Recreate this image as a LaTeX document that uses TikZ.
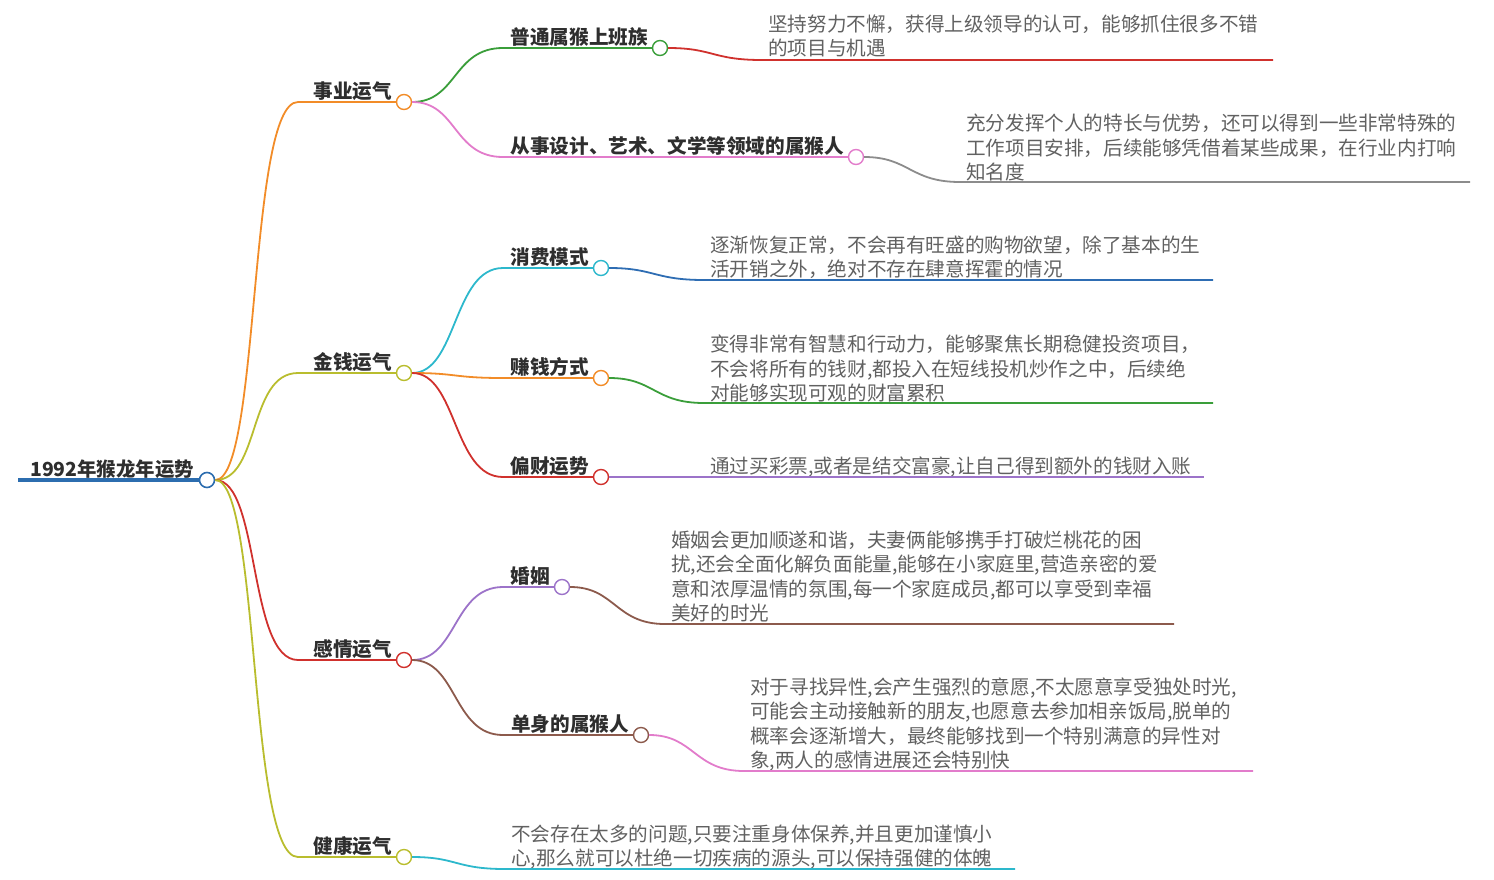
\documentclass[tikz,border=0pt]{standalone}
\usepackage{fontspec}
\newfontfamily\cjk{Noto Sans CJK SC}
\usetikzlibrary{calc}

\definecolor{rootblue}{HTML}{2C6DAF}
\definecolor{cOrange}{HTML}{F28C28}
\definecolor{cOlive}{HTML}{B9BD2E}
\definecolor{cRed}{HTML}{D0312D}
\definecolor{cGreen}{HTML}{3A9E3A}
\definecolor{cPink}{HTML}{E27CCB}
\definecolor{cCyan}{HTML}{2DB8CC}
\definecolor{cBlue}{HTML}{2E6DB3}
\definecolor{cPurple}{HTML}{9C73C9}
\definecolor{cBrown}{HTML}{8C5A4C}
\definecolor{cGray}{HTML}{8C8C8C}

\tikzset{
  dot/.style={circle,draw,fill=white,line width=1.4pt,minimum size=15pt,inner sep=0pt},
  lab/.style={anchor=base east,inner sep=0pt,text=black!82,font=\cjk\bfseries\fontsize{19.6}{24}\selectfont},
  leaf/.style={anchor=base west,inner sep=0pt,align=left,text=black!62,font=\cjk\fontsize{19.6}{24.5}\selectfont},
  br/.style={line width=1.8pt},
}

\begin{document}
\begin{tikzpicture}[x=1pt,y=-1pt]
\useasboundingbox (0,0) rectangle (1494,879);
% root
\node[dot,draw=rootblue,line width=1.6pt] (root) at (207,480) {};
\coordinate (r0) at (18,480);
\draw[line width=4pt,rootblue] (r0) -- (root.west);
\node[lab,anchor=base west,font=\cjk\bfseries\fontsize{19.4}{22}\selectfont] (rootlab) at (30,476) {1992年猴龙年运势};
% main branches
\foreach \n/\y/\col/\t in {1/102/cOrange/事业运气,2/373/cOlive/金钱运气,3/660/cRed/感情运气,4/857/cOlive/健康运气}{
  \node[dot,draw=\col] (m\n) at (404,\y) {};
  \node[lab] (mt\n) at ($(m\n)+(-12,-4)$) {\t};
  \coordinate (mh\n) at (298,\y);
  \draw[br,\col] (root.east) .. controls +(45,0) and +(-50,0) .. (mh\n) -- (m\n.west);
}
% sub branches
\foreach \n/\p/\x/\y/\col/\t in {1/1/660/48/cGreen/普通属猴上班族,
  2/1/856/157/cPink/从事设计、艺术、文学等领域的属猴人,
  3/2/601/268/cCyan/消费模式,4/2/601/378/cOrange/赚钱方式,5/2/601/477/cRed/偏财运势,
  6/3/562/587/cPurple/婚姻,7/3/641/735/cBrown/单身的属猴人}{
  \node[dot,draw=\col] (s\n) at (\x,\y) {};
  \node[lab] (st\n) at ($(s\n)+(-12,-4)$) {\t};
  \coordinate (sh\n) at (503,\y);
  \draw[br,\col] (m\p.east) .. controls +(45,0) and +(-50,0) .. (sh\n) -- (s\n.west);
}
% leaves (base = last line)
\foreach \p/\x/\y/\xe/\col/\b/\t in {
  s1/762/60/1273/cRed/55.5/{坚持努力不懈，获得上级领导的认可，能够抓住很多不错\\的项目与机遇},
  s2/960/182/1470/cGray/179.5/{充分发挥个人的特长与优势，还可以得到一些非常特殊的\\工作项目安排，后续能够凭借着某些成果，在行业内打响\\知名度},
  s3/704/280/1213/cBlue/276.5/{逐渐恢复正常，不会再有旺盛的购物欲望，除了基本的生\\活开销之外，绝对不存在肆意挥霍的情况},
  s4/704/403/1213/cGreen/400.5/{变得非常有智慧和行动力，能够聚焦长期稳健投资项目，\\不会将所有的钱财,都投入在短线投机炒作之中，后续绝\\对能够实现可观的财富累积},
  s5/704/477/1204/cPurple/473.5/{通过买彩票,或者是结交富豪,让自己得到额外的钱财入账},
  s6/665/624/1174/cBrown/620.5/{婚姻会更加顺遂和谐，夫妻俩能够携手打破烂桃花的困\\扰,还会全面化解负面能量,能够在小家庭里,营造亲密的爱\\意和浓厚温情的氛围,每一个家庭成员,都可以享受到幸福\\美好的时光},
  s7/744/771/1253/cPink/767.5/{对于寻找异性,会产生强烈的意愿,不太愿意享受独处时光,\\可能会主动接触新的朋友,也愿意去参加相亲饭局,脱单的\\概率会逐渐增大，最终能够找到一个特别满意的异性对\\象,两人的感情进展还会特别快},
  m4/505/869/1015/cCyan/865.5/{不会存在太多的问题,只要注重身体保养,并且更加谨慎小\\心,那么就可以杜绝一切疾病的源头,可以保持强健的体魄}}{
  \coordinate (la\p) at (\x,\y);
  \coordinate (lb\p) at (\xe,\y);
  \node[leaf] (lt\p) at (\x+6,\b) {\t};
  \draw[br,\col] (\p.east) .. controls +(45,0) and +(-50,0) .. (la\p) -- (lb\p);
}
\end{tikzpicture}
\end{document}
